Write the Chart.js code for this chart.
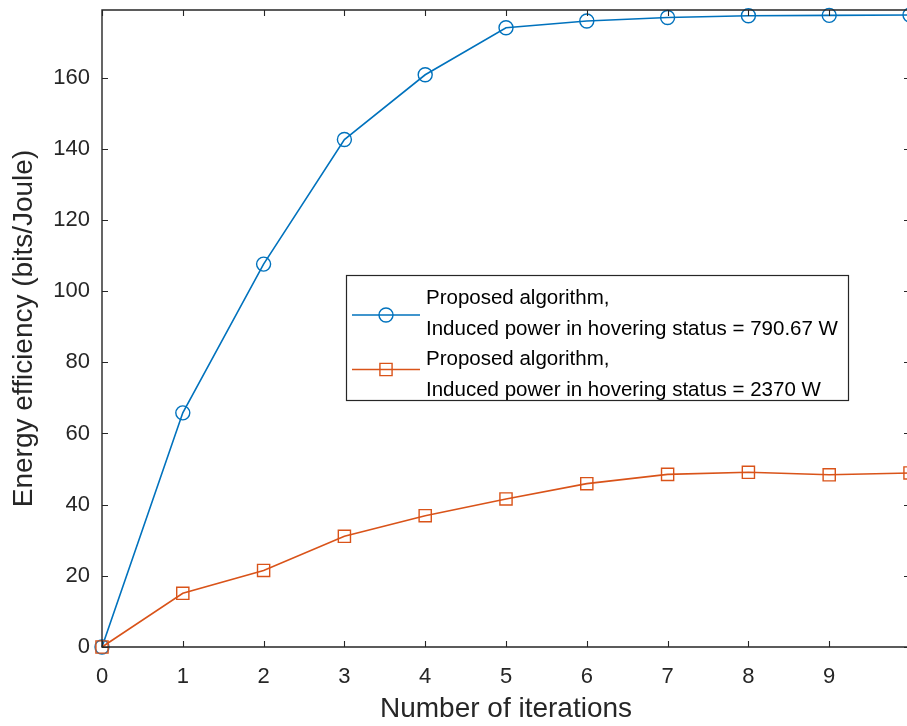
<!DOCTYPE html>
<html>
<head>
<meta charset="utf-8">
<title>Energy efficiency vs. iterations</title>
<script src="https://cdn.jsdelivr.net/npm/chart.js@4/dist/chart.umd.min.js"></script>
<style>
  html, body { margin: 0; padding: 0; background: #ffffff; overflow: hidden; }
  #wrap { width: 907px; height: 726px; overflow: hidden; }
  canvas { display: block; }
</style>
</head>
<body>
<div id="wrap"><canvas id="chart" width="920" height="726"></canvas></div>
<script>
// Iteration index (x axis)
const iterations = [0, 1, 2, 3, 4, 5, 6, 7, 8, 9, 10];
// Energy efficiency (bits/Joule), induced hovering power 790.67 W
const eeLowPower = [0, 65.8, 107.6, 142.6, 160.8, 174.0, 175.9, 176.9, 177.4, 177.5, 177.6];
// Energy efficiency (bits/Joule), induced hovering power 2370 W
const eeHighPower = [0, 15.1, 21.5, 31.1, 36.9, 41.6, 45.9, 48.5, 49.1, 48.4, 48.9];

const xTickValues = [0, 1, 2, 3, 4, 5, 6, 7, 8, 9];
const yTickValues = [0, 20, 40, 60, 80, 100, 120, 140, 160];
const yMax = 179;

const seriesLabels = [
  ['Proposed algorithm,', 'Induced power in hovering status = 790.67 W'],
  ['Proposed algorithm,', 'Induced power in hovering status = 2370 W']
];
const xTitle = 'Number of iterations';
const yTitle = 'Energy efficiency (bits/Joule)';

const BLUE = '#0072BD';
const ORANGE = '#D95319';
const AXIS = '#262626';
const FONT = '"Liberation Sans", Arial, Helvetica, sans-serif';

const toPoints = (ys) => iterations.map((x, i) => ({ x: x, y: ys[i] }));

// Box around the axes with inward tick marks on all four sides
const boxAxes = {
  id: 'boxAxes',
  afterDatasetsDraw(chart) {
    const { ctx, chartArea: a, scales } = chart;
    const len = 6;
    ctx.save();
    ctx.strokeStyle = AXIS;
    ctx.lineWidth = 1.4;
    ctx.beginPath();
    ctx.rect(a.left, a.top, a.right - a.left, a.bottom - a.top);
    ctx.stroke();
    ctx.lineWidth = 1.1;
    ctx.beginPath();
    scales.x.ticks.forEach(t => {
      const px = Math.round(scales.x.getPixelForValue(t.value)) + 0.5;
      ctx.moveTo(px, a.bottom); ctx.lineTo(px, a.bottom - len);
      ctx.moveTo(px, a.top); ctx.lineTo(px, a.top + len);
    });
    scales.y.ticks.forEach(t => {
      const py = Math.round(scales.y.getPixelForValue(t.value)) + 0.5;
      ctx.moveTo(a.left, py); ctx.lineTo(a.left + len, py);
      ctx.moveTo(a.right, py); ctx.lineTo(a.right - len, py);
    });
    ctx.stroke();
    ctx.restore();
  }
};

// Boxed legend with two-line entries
const boxLegend = {
  id: 'boxLegend',
  afterDraw(chart) {
    const { ctx } = chart;
    const box = { x: 346.5, y: 275.5, w: 502, h: 125 };
    ctx.save();
    ctx.fillStyle = '#ffffff';
    ctx.fillRect(box.x, box.y, box.w, box.h);
    ctx.strokeStyle = AXIS;
    ctx.lineWidth = 1.2;
    ctx.strokeRect(box.x, box.y, box.w, box.h);

    const entries = [
      { ds: chart.data.datasets[0], lineY: 315, baselines: [304, 334.5] },
      { ds: chart.data.datasets[1], lineY: 369.5, baselines: [365, 395.5] }
    ];
    entries.forEach(e => {
      const ds = e.ds;
      ctx.strokeStyle = ds.borderColor;
      ctx.lineWidth = ds.borderWidth;
      ctx.beginPath();
      ctx.moveTo(352, e.lineY); ctx.lineTo(420, e.lineY);
      ctx.stroke();
      ctx.lineWidth = ds.pointBorderWidth;
      ctx.beginPath();
      if (ds.pointStyle === 'circle') {
        ctx.arc(386, e.lineY, ds.pointRadius, 0, Math.PI * 2);
      } else {
        const s = ds.pointRadius * Math.SQRT1_2;
        ctx.rect(386 - s, e.lineY - s, 2 * s, 2 * s);
      }
      ctx.stroke();
      ctx.fillStyle = '#000000';
      ctx.font = '20.5px ' + FONT;
      ctx.textAlign = 'left';
      ctx.textBaseline = 'alphabetic';
      ds.label.forEach((line, i) => ctx.fillText(line, 426, e.baselines[i]));
    });
    ctx.restore();
  }
};

new Chart(document.getElementById('chart'), {
  type: 'line',
  data: {
    datasets: [
      {
        label: seriesLabels[0],
        data: toPoints(eeLowPower),
        borderColor: BLUE,
        borderWidth: 1.6,
        pointStyle: 'circle',
        pointRadius: 7,
        pointBorderWidth: 1.4,
        pointBorderColor: BLUE,
        pointBackgroundColor: 'rgba(0,0,0,0)',
        tension: 0,
        clip: false,
        order: 1
      },
      {
        label: seriesLabels[1],
        data: toPoints(eeHighPower),
        borderColor: ORANGE,
        borderWidth: 1.6,
        pointStyle: 'rect',
        pointRadius: 8.6,
        pointBorderWidth: 1.4,
        pointBorderColor: ORANGE,
        pointBackgroundColor: 'rgba(0,0,0,0)',
        tension: 0,
        clip: false,
        order: 0
      }
    ]
  },
  options: {
    responsive: false,
    devicePixelRatio: 1,
    animation: false,
    events: [],
    layout: { padding: { top: 10, right: 7, left: 0, bottom: 0 } },
    plugins: {
      legend: { display: false },
      tooltip: { enabled: false }
    },
    scales: {
      x: {
        type: 'linear',
        min: 0,
        max: 10,
        afterBuildTicks: (s) => { s.ticks = xTickValues.map(v => ({ value: v })); },
        afterFit: (s) => {
          s.height = 79;
          s.paddingLeft = 0; s.paddingRight = 0;
        },
        grid: { display: false, drawTicks: false },
        border: { display: false },
        ticks: {
          autoSkip: false,
          maxRotation: 0,
          padding: 17,
          color: AXIS,
          font: { family: FONT, size: 22 },
          callback: (v) => String(v)
        },
        title: {
          display: true,
          text: xTitle,
          color: AXIS,
          font: { family: FONT, size: 28 },
          padding: { top: 0, bottom: 0 }
        }
      },
      y: {
        type: 'linear',
        min: 0,
        max: yMax,
        afterBuildTicks: (s) => { s.ticks = yTickValues.map(v => ({ value: v })); },
        afterFit: (s) => {
          s.width = 102;
          s.paddingTop = 0; s.paddingBottom = 0;
        },
        grid: { display: false, drawTicks: false },
        border: { display: false },
        ticks: {
          autoSkip: false,
          padding: 12,
          color: AXIS,
          font: { family: FONT, size: 22 },
          callback: (v) => String(v)
        },
        title: {
          display: true,
          text: yTitle,
          color: AXIS,
          font: { family: FONT, size: 28 },
          padding: { top: 7, bottom: 0 }
        }
      }
    }
  },
  plugins: [boxAxes, boxLegend]
});
</script>
</body>
</html>
